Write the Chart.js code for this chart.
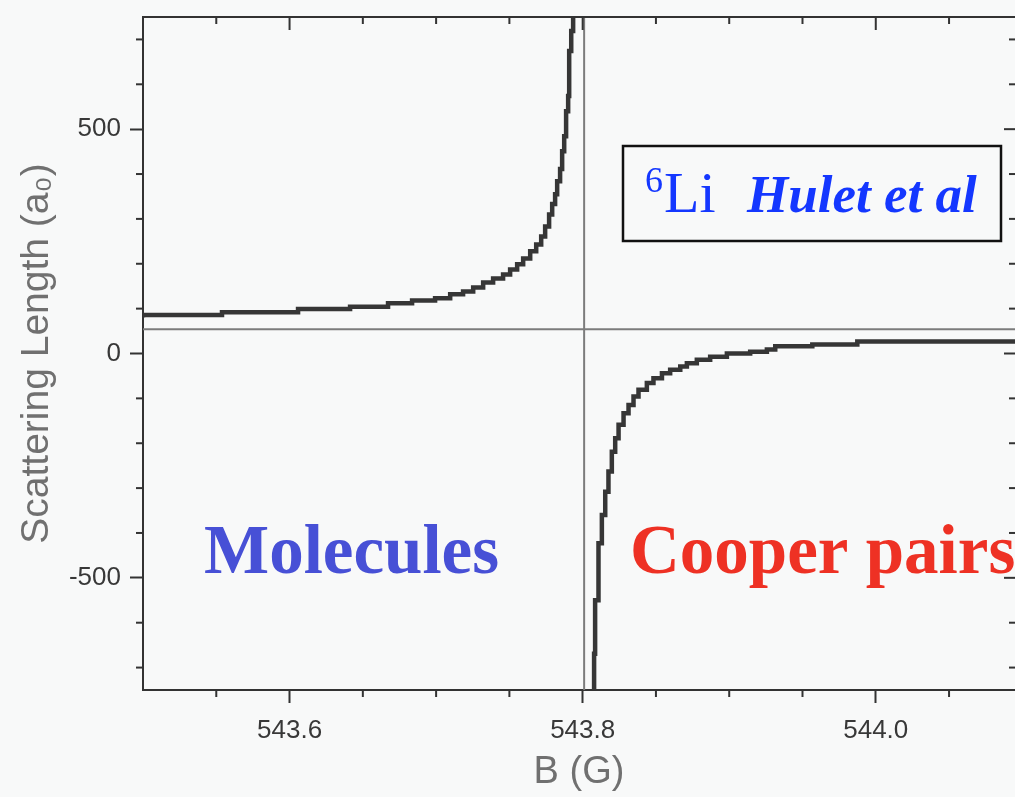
<!DOCTYPE html>
<html>

<head>
    <title>6Li Feshbach resonance</title>
    <script src="https://cdn.jsdelivr.net/npm/chart.js"></script>
    <style>
        body { margin: 0; background: #f8f9f9; }
    </style>
</head>

<body>

    <div style="width: 1015px; height: 797px;">
        <canvas id="myChart"></canvas>
    </div>

    <script>
        // B field (G) and scattering length (a0)
        // branch below the resonance (molecule side)
        const leftB = [543.5000, 543.5539, 543.6058, 543.6413, 543.6672, 543.6836, 543.6993, 543.7096,
            543.7184, 543.7253, 543.7321, 543.7389, 543.7457, 543.7505, 543.7553, 543.7594, 543.7642,
            543.7683, 543.7717, 543.7744, 543.7771, 543.7792, 543.7812, 543.7826, 543.7846, 543.7860,
            543.7874, 543.7887, 543.7901, 543.7908, 543.7922, 543.7935, 543.7949];
        const leftA = [80, 86, 92, 99, 104, 112, 118, 123,
            132, 138, 147, 158, 167, 176, 187, 199, 212,
            228, 243, 261, 283, 310, 333, 355, 384, 411,
            451, 484, 540, 574, 674, 719, 790];

        // branch above the resonance (Cooper pair side)
        const rightB = [543.8078, 543.8085, 543.8108, 543.8131, 543.8154, 543.8176, 543.8199, 543.8222,
            543.8245, 543.8279, 543.8313, 543.8347, 543.8381, 543.8438, 543.8483, 543.8541, 543.8597,
            543.8666, 543.8711, 543.8779, 543.8870, 543.8984, 543.9143, 543.9257, 543.9314, 543.9567,
            543.9874, 544.0358, 544.0952];
        const rightA = [-790, -669, -550, -423, -360, -308, -263, -219,
            -189, -159, -133, -115, -96, -81, -66, -55, -44,
            -36, -29, -22, -14, -7, 0, 4, 9, 16,
            20, 27, 27];

        const bgLevel = 54;          // horizontal guide line
        const resonanceB = 543.801;  // vertical guide line

        const xTicks = [543.6, 543.8, 544.0];
        const xMinorTicks = [543.55, 543.65, 543.7, 543.75, 543.85, 543.9, 543.95, 544.05];
        const yTicks = [-500, 0, 500];
        const yMinorTicks = [-700, -600, -400, -300, -200, -100, 100, 200, 300, 400, 600, 700];

        const xMin = 543.5, xMax = 544.095;
        const yMin = -750, yMax = 750;

        const axisColor = '#333333';

        function toPoints(xs, ys) {
            return xs.map((v, i) => ({ x: v, y: ys[i] }));
        }

        // background, frame, small ticks and the text labels
        const extras = {
            id: 'extras',
            beforeDraw(chart) {
                const ctx = chart.ctx;
                ctx.save();
                ctx.fillStyle = '#f8f9f9';
                ctx.fillRect(0, 0, chart.width, chart.height);
                ctx.restore();
            },
            afterDraw(chart) {
                const { ctx, chartArea: a, scales: { x, y } } = chart;
                const line = (x1, y1, x2, y2) => {
                    ctx.beginPath(); ctx.moveTo(x1, y1); ctx.lineTo(x2, y2); ctx.stroke();
                };
                ctx.save();
                ctx.strokeStyle = axisColor;
                ctx.lineWidth = 2;
                line(a.left - 1, a.top, a.right, a.top);

                xMinorTicks.forEach(v => {
                    const px = x.getPixelForValue(v);
                    line(px, a.bottom, px, a.bottom + 7);
                    line(px, a.top, px, a.top + 7);
                });
                xTicks.forEach(v => {
                    const px = x.getPixelForValue(v);
                    line(px, a.top, px, a.top + 13);
                });
                yMinorTicks.forEach(v => {
                    const py = y.getPixelForValue(v);
                    line(a.left - 7, py, a.left, py);
                    line(a.right - 6, py, a.right, py);
                });
                yTicks.forEach(v => {
                    const py = y.getPixelForValue(v);
                    line(a.right - 11, py, a.right, py);
                });

                // legend box
                ctx.lineWidth = 2.5;
                ctx.strokeStyle = '#111';
                ctx.strokeRect(623, 146, 378, 95);

                ctx.textBaseline = 'alphabetic';
                ctx.textAlign = 'left';
                ctx.fillStyle = '#1437ff';
                ctx.font = '36px "Liberation Serif"';
                ctx.fillText('6', 645, 192);
                ctx.font = '58px "Liberation Serif"';
                ctx.fillText('Li', 664, 212);
                ctx.font = 'italic bold 53px "Liberation Serif"';
                ctx.fillText('Hulet et al', 747, 212);

                ctx.font = 'bold 69px "Liberation Serif"';
                ctx.fillStyle = '#4750d6';
                ctx.fillText('Molecules', 204, 573);
                ctx.fillStyle = '#ee3124';
                ctx.fillText('Cooper pairs', 630, 573);
                ctx.restore();
            }
        };

        const ctx = document.getElementById('myChart').getContext('2d');

        const myChart = new Chart(ctx, {
            type: 'line',
            data: {
                datasets: [{
                    data: toPoints(leftB, leftA),
                    borderColor: '#363636',
                    borderWidth: 4.5,
                    pointRadius: 0,
                    stepped: 'after',
                    order: 1
                }, {
                    data: toPoints(rightB, rightA),
                    borderColor: '#363636',
                    borderWidth: 4.5,
                    pointRadius: 0,
                    stepped: 'after',
                    order: 1
                }, {
                    data: [{ x: xMin, y: bgLevel }, { x: xMax, y: bgLevel }],
                    borderColor: '#7c7c7c',
                    borderWidth: 2,
                    pointRadius: 0,
                    order: 2
                }, {
                    data: [{ x: resonanceB, y: yMin }, { x: resonanceB, y: yMax }],
                    borderColor: '#7c7c7c',
                    borderWidth: 2,
                    pointRadius: 0,
                    order: 2
                }]
            },
            options: {
                responsive: true,
                maintainAspectRatio: false,
                animation: false,
                layout: { padding: { top: 17, right: 0, bottom: 0, left: 0 } },
                plugins: {
                    legend: { display: false },
                    tooltip: { enabled: false }
                },
                scales: {
                    x: {
                        type: 'linear',
                        min: xMin,
                        max: xMax,
                        afterBuildTicks: (s) => { s.ticks = xTicks.map(v => ({ value: v })); },
                        afterFit: (s) => { s.height = 107; s.paddingLeft = 0; s.paddingRight = 0; },
                        ticks: {
                            callback: (v) => v.toFixed(1),
                            color: '#383838',
                            font: { family: 'Liberation Sans', size: 26 },
                            padding: 12,
                            maxRotation: 0
                        },
                        grid: {
                            drawOnChartArea: false,
                            tickLength: 13,
                            tickWidth: 2,
                            tickColor: axisColor
                        },
                        border: { color: axisColor, width: 2 },
                        title: {
                            display: true,
                            text: 'B (G)',
                            color: '#707070',
                            font: { family: 'Liberation Sans', size: 38 },
                            padding: { top: 0, bottom: 2 }
                        }
                    },
                    y: {
                        type: 'linear',
                        min: yMin,
                        max: yMax,
                        afterBuildTicks: (s) => { s.ticks = yTicks.map(v => ({ value: v })); },
                        afterFit: (s) => { s.width = 143; s.paddingTop = 0; s.paddingBottom = 0; },
                        ticks: {
                            callback: (v) => String(v),
                            color: '#383838',
                            font: { family: 'Liberation Sans', size: 26 },
                            padding: 9
                        },
                        grid: {
                            drawOnChartArea: false,
                            tickLength: 13,
                            tickWidth: 2,
                            tickColor: axisColor
                        },
                        border: { color: axisColor, width: 2 },
                        title: {
                            display: true,
                            text: 'Scattering Length (a₀)',
                            color: '#707070',
                            font: { family: 'Liberation Sans', size: 39 },
                            padding: { top: 14, bottom: 0 }
                        }
                    }
                }
            },
            plugins: [extras]
        });
    </script>

</body>

</html>
